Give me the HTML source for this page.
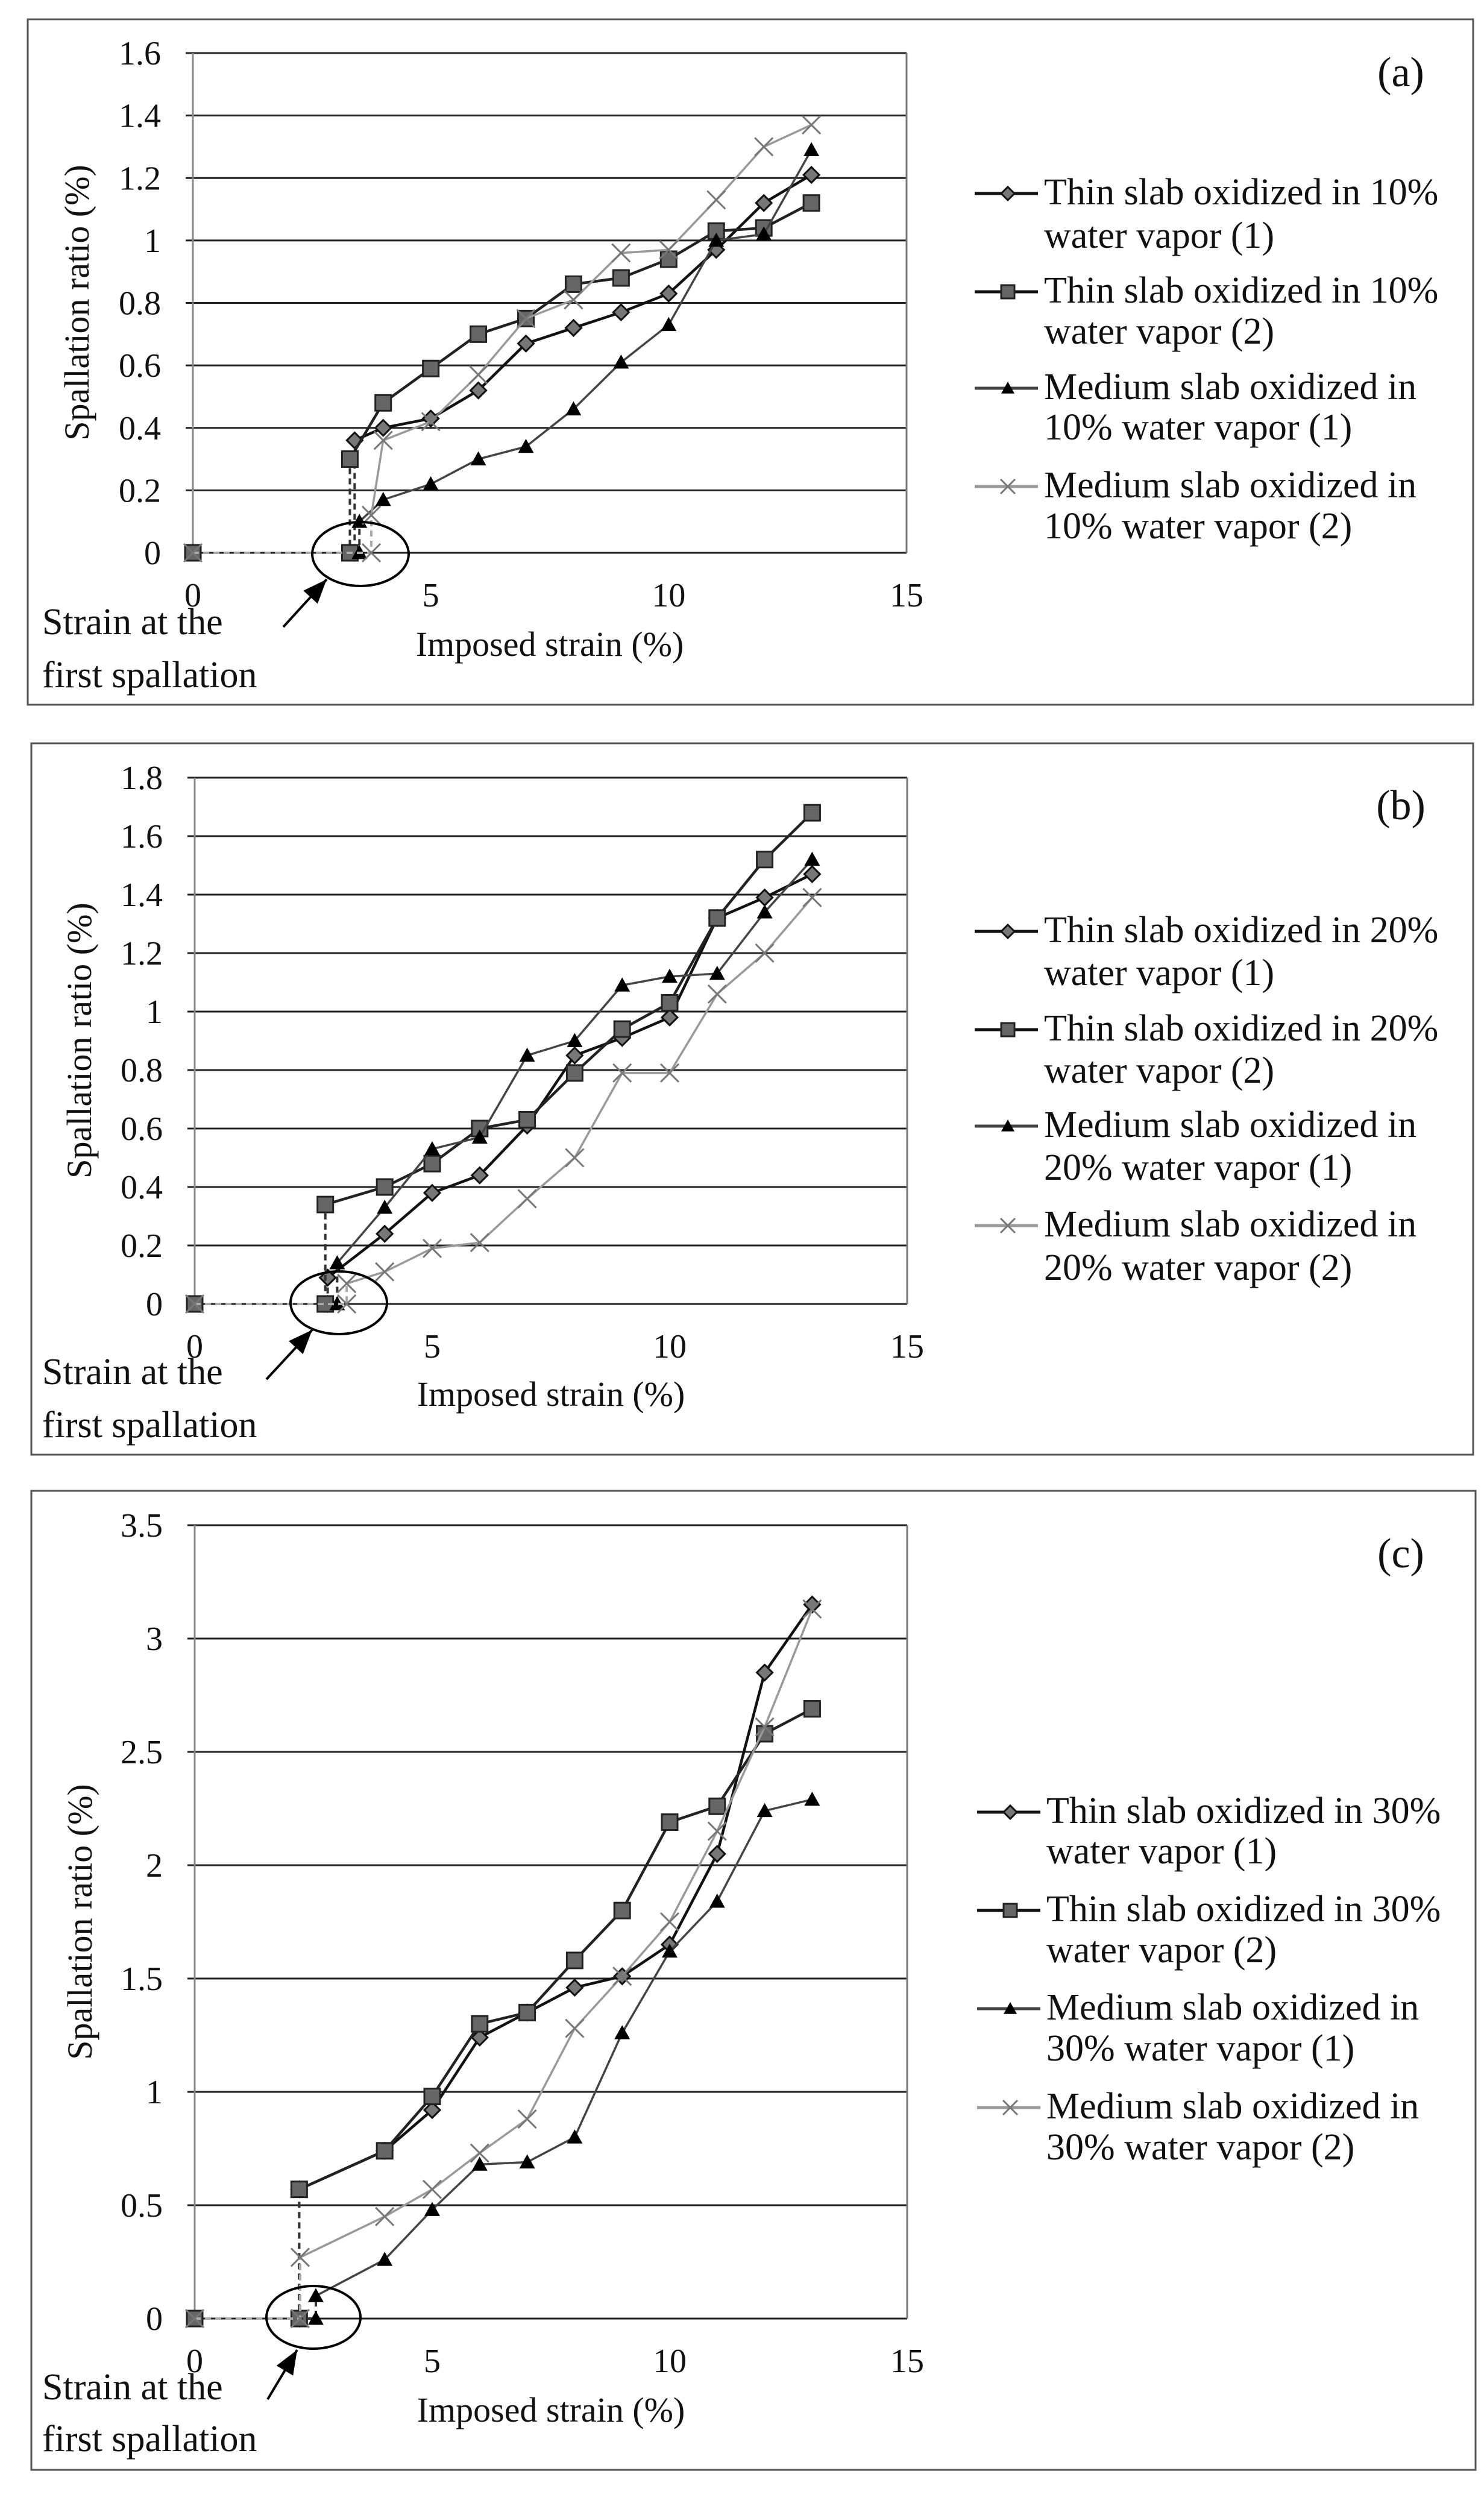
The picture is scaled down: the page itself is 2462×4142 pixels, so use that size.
<!DOCTYPE html>
<html><head><meta charset="utf-8"><style>
html,body{margin:0;padding:0;background:#fff;}
svg{display:block;font-family:"Liberation Serif","DejaVu Serif",serif;}
</style></head><body>
<svg id="fig" width="2462" height="4142" viewBox="0 0 2462 4142" xmlns="http://www.w3.org/2000/svg"></svg>
<script>
// ---------- data ----------
const legendA = ["Thin slab oxidized in 10%|water vapor (1)","Thin slab oxidized in 10%|water vapor (2)","Medium slab oxidized in|10% water vapor (1)","Medium slab oxidized in|10% water vapor (2)"];
const legendB = ["Thin slab oxidized in 20%|water vapor (1)","Thin slab oxidized in 20%|water vapor (2)","Medium slab oxidized in|20% water vapor (1)","Medium slab oxidized in|20% water vapor (2)"];
const legendC = ["Thin slab oxidized in 30%|water vapor (1)","Thin slab oxidized in 30%|water vapor (2)","Medium slab oxidized in|30% water vapor (1)","Medium slab oxidized in|30% water vapor (2)"];
const xTicks = [0,5,10,15];
const yTicksA = [0,0.2,0.4,0.6,0.8,1,1.2,1.4,1.6];
const yTicksB = [0,0.2,0.4,0.6,0.8,1,1.2,1.4,1.6,1.8];
const yTicksC = [0,0.5,1,1.5,2,2.5,3,3.5];
// panel (a)
const a1x=[0,3.4,3.4,4,5,6,7,8,9,10,11,12,13];
const a1y=[0,0,0.36,0.40,0.43,0.52,0.67,0.72,0.77,0.83,0.97,1.12,1.21];
const a2x=[0,3.3,3.3,4,5,6,7,8,9,10,11,12,13];
const a2y=[0,0,0.30,0.48,0.59,0.70,0.75,0.86,0.88,0.94,1.03,1.04,1.12];
const a3x=[0,3.5,3.5,4,5,6,7,8,9,10,11,12,13];
const a3y=[0,0,0.10,0.17,0.22,0.30,0.34,0.46,0.61,0.73,1.00,1.02,1.29];
const a4x=[0,3.75,3.75,4,5,6,7,8,9,10,11,12,13];
const a4y=[0,0,0.12,0.36,0.42,0.57,0.75,0.81,0.96,0.97,1.13,1.30,1.37];
// panel (b)
const b1x=[0,2.8,2.8,4,5,6,7,8,9,10,11,12,13];
const b1y=[0,0,0.09,0.24,0.38,0.44,0.61,0.85,0.91,0.98,1.32,1.39,1.47];
const b2x=[0,2.75,2.75,4,5,6,7,8,9,10,11,12,13];
const b2y=[0,0,0.34,0.40,0.48,0.60,0.63,0.79,0.94,1.03,1.32,1.52,1.68];
const b3x=[0,3.0,3.0,4,5,6,7,8,9,10,11,12,13];
const b3y=[0,0,0.14,0.33,0.53,0.57,0.85,0.90,1.09,1.12,1.13,1.34,1.52];
const b4x=[0,3.2,3.2,4,5,6,7,8,9,10,11,12,13];
const b4y=[0,0,0.07,0.11,0.19,0.21,0.36,0.50,0.79,0.79,1.06,1.20,1.39];
// panel (c)
const c1x=[0,2.2,2.2,4,5,6,7,8,9,10,11,12,13];
const c1y=[0,0,0.57,0.74,0.92,1.24,1.35,1.46,1.51,1.65,2.05,2.85,3.15];
const c2x=[0,2.2,2.2,4,5,6,7,8,9,10,11,12,13];
const c2y=[0,0,0.57,0.74,0.98,1.30,1.35,1.58,1.80,2.19,2.26,2.58,2.69];
const c3x=[0,2.55,2.55,4,5,6,7,8,9,10,11,12,13];
const c3y=[0,0,0.10,0.26,0.48,0.68,0.69,0.80,1.26,1.62,1.84,2.24,2.29];
const c4x=[0,2.22,2.22,4,5,6,7,8,9,10,11,12,13];
const c4y=[0,0,0.27,0.45,0.57,0.73,0.88,1.28,1.51,1.75,2.15,2.61,3.13];

// ---------- geometry ----------
const NS="http://www.w3.org/2000/svg";
const svg=document.getElementById('fig');
function mk(tag,attrs,parent){const e=document.createElementNS(NS,tag);for(const k in attrs)e.setAttribute(k,attrs[k]);(parent||svg).appendChild(e);return e;}
const styles=[
 {line:'#111',lw:4.5,marker:'diamond',fill:'#777',stroke:'#111'},
 {line:'#222',lw:4.5,marker:'square',fill:'#666',stroke:'#222'},
 {line:'#444',lw:3.5,marker:'triangle',fill:'#000',stroke:'#000'},
 {line:'#999',lw:3.5,marker:'x',fill:'none',stroke:'#777'}
];
function marker(g,type,cx,cy,st,s){
  let e;
  if(type==='diamond'){e=mk('polygon',{points:`${cx},${cy-s} ${cx+s},${cy} ${cx},${cy+s} ${cx-s},${cy}`,fill:st.fill,stroke:st.stroke,'stroke-width':3},g);}
  else if(type==='square'){e=mk('rect',{x:cx-s,y:cy-s,width:2*s,height:2*s,fill:st.fill,stroke:st.stroke,'stroke-width':3},g);}
  else if(type==='triangle'){e=mk('polygon',{points:`${cx},${cy-s} ${cx+s},${cy+s*0.8} ${cx-s},${cy+s*0.8}`,fill:st.fill},g);}
  else {e=mk('path',{d:`M${cx-s},${cy-s}L${cx+s},${cy+s}M${cx-s},${cy+s}L${cx+s},${cy-s}`,stroke:st.stroke,'stroke-width':3,fill:'none'},g);}
  
  
}
function panel(p){
  const g=mk('g',{});
  
  
  const fr=mk('rect',{x:p.fx0,y:p.fy0,width:p.fx1-p.fx0,height:p.fy1-p.fy0,fill:'none',stroke:'#555','stroke-width':3},g);
  
  
  const X=v=>p.x0+(v-0)/15*(p.x15-p.x0);
  const Y=v=>p.y0-v/p.ymax*(p.y0-p.yTop);
  // gridlines & y ticks
  p.yt.forEach(v=>{
    const y=Y(v);
    const l=mk('line',{x1:X(0)-12,x2:X(15),y1:y,y2:y,stroke:'#222','stroke-width':3},g);
    
    
    const t=mk('text',{x:p.x0-53,y:y+19,'text-anchor':'end','font-size':56,fill:'#111'},g);
    t.textContent=String(v);
    
    
  });
  const ax=mk('line',{x1:X(0),x2:X(0),y1:Y(0),y2:Y(p.ymax),stroke:'#888','stroke-width':3},g);
  
  
  const rb=mk('line',{x1:X(15),x2:X(15),y1:Y(0),y2:Y(p.ymax),stroke:'#777','stroke-width':3},g);
  
  
  xTicks.forEach(v=>{
    const t=mk('text',{x:X(v),y:p.y0+89,'text-anchor':'middle','font-size':56,fill:'#111'},g);
    t.textContent=String(v);
    
    
  });
  const yt=mk('text',{x:0,y:0,'text-anchor':'middle','font-size':58,fill:'#111',transform:`translate(${p.ytx},${p.yty}) rotate(-90)`},g);
  yt.textContent='Spallation ratio (%)';
  
  
  const xt=mk('text',{x:(X(0)+X(15))/2,y:p.xtb,'text-anchor':'middle','font-size':58,fill:'#111'},g);
  xt.textContent='Imposed strain (%)';
  
  
  // series
  p.series.forEach((s,i)=>{
    const st=styles[i];
    const sg=mk('g',{},g);
    
    
    const xs=s[0],ys=s[1];
    // dashed lead-in (first two segments)
    const dpts=[0,1,2].map(k=>X(xs[k])+','+Y(ys[k])).join(' ');
    const d=mk('polyline',{points:dpts,fill:'none',stroke:i===3?'#aaa':'#333','stroke-width':4,'stroke-dasharray':'10,7'},sg);
    
    
    const pts=xs.slice(2).map((x,k)=>X(x)+','+Y(ys[k+2])).join(' ');
    const pl=mk('polyline',{points:pts,fill:'none',stroke:st.line,'stroke-width':st.lw},sg);
    
    
    xs.forEach((x,k)=>{ if(k===0 && i!==3 && i!==1) return; marker(sg,st.marker,X(x),Y(ys[k]),st,st.marker==='x'?15:13);});
  });
  // annotation
  const el=mk('ellipse',{cx:p.ex,cy:p.ey,rx:p.erx,ry:p.ery,fill:'none',stroke:'#000','stroke-width':4},g);
  
  
  const ar=mk('line',{x1:p.ax0,y1:p.ay0,x2:p.ax1,y2:p.ay1,stroke:'#000','stroke-width':4},g);
  
  
  const ang=Math.atan2(p.ay1-p.ay0,p.ax1-p.ax0),L=40,W=16;
  const bx=p.ax1-L*Math.cos(ang),by=p.ay1-L*Math.sin(ang);
  const ah=mk('polygon',{points:`${p.ax1},${p.ay1} ${bx+W*Math.sin(ang)},${by-W*Math.cos(ang)} ${bx-W*Math.sin(ang)},${by+W*Math.cos(ang)}`,fill:'#000'},g);
  
  
  ['Strain at the','first spallation'].forEach((s,k)=>{
    const t=mk('text',{x:70,y:p.annB[k],'font-size':62,fill:'#111'},g);
    t.textContent=s;
    
    
  });
  const lb=mk('text',{x:p.lbx,y:p.lby,'text-anchor':'middle','font-size':70,fill:'#111'},g);
  lb.textContent='('+p.id+')';
  
  
  // legend
  p.legend.forEach((s,i)=>{
    const st=styles[i];
    const lg=mk('g',{},g);
    
    
    const by=p.legB[i][0]-18;
    mk('line',{x1:p.legx0,x2:p.legx0+105,y1:by,y2:by,stroke:i===3?'#999':(i===2?'#444':'#111'),'stroke-width':5},lg);
    marker(lg,st.marker,p.legx0+55,by,st,st.marker==='x'?12:11);
    s.split('|').forEach((ln,k)=>{
      const t=mk('text',{x:p.legx0+115,y:p.legB[i][k],'font-size':62,fill:'#111'},lg);
      t.textContent=ln;
      
      
    });
  });
}
panel({id:'a',fx0:46,fy0:32,fx1:2444,fy1:1169,x0:320,x15:1504,y0:917,yTop:88,ymax:1.6,yt:yTicksA,
  ytx:147,yty:502,xtb:1088,ex:598,ey:919,erx:80,ery:53,ax0:470,ay0:1040,ax1:542,ay1:961,annB:[1052,1140],
  lbx:2324,lby:143,legx0:1617,legB:[[339,411],[502,570],[662,729],[825,893]],legend:legendA,
  series:[[a1x,a1y],[a2x,a2y],[a3x,a3y],[a4x,a4y]]});
panel({id:'b',fx0:52,fy0:1233,fx1:2444,fy1:2413,x0:323,x15:1505,y0:2163,yTop:1290,ymax:1.8,yt:yTicksB,
  ytx:151,yty:1726,xtb:2332,ex:562,ey:2161,erx:80,ery:52,ax0:442,ay0:2288,ax1:518,ay1:2206,annB:[2296,2384],
  lbx:2324,lby:1359,legx0:1617,legB:[[1563,1634],[1726,1796],[1886,1957],[2051,2123]],legend:legendB,
  series:[[b1x,b1y],[b2x,b2y],[b3x,b3y],[b4x,b4y]]});
panel({id:'c',fx0:52,fy0:2473,fx1:2448,fy1:4097,x0:323,x15:1505,y0:3846,yTop:2530,ymax:3.5,yt:yTicksC,
  ytx:152,yty:3188,xtb:4017,ex:520,ey:3844,erx:78,ery:52,ax0:444,ay0:3980,ax1:493,ay1:3898,annB:[3980,4066],
  lbx:2324,lby:2600,legx0:1621,legB:[[3024,3091],[3187,3255],[3350,3418],[3514,3582]],legend:legendC,
  series:[[c1x,c1y],[c2x,c2y],[c3x,c3y],[c4x,c4y]]});
</script>
</body></html>
